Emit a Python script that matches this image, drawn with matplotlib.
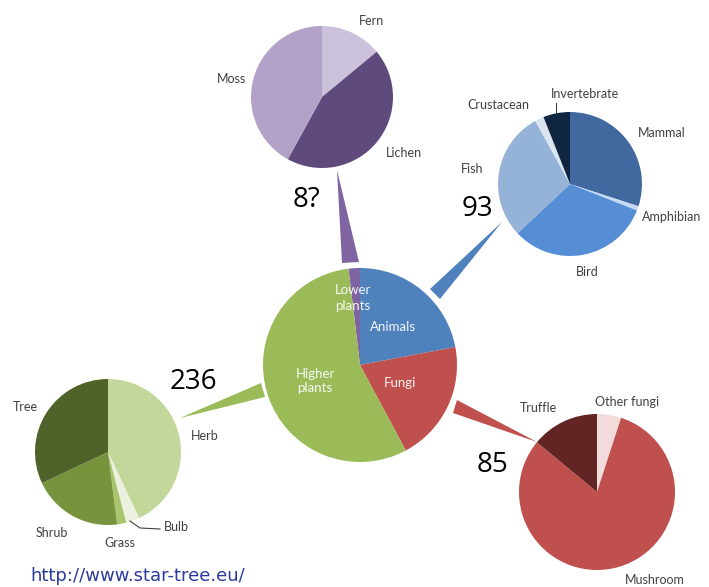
import matplotlib
matplotlib.use("Agg")
import matplotlib.pyplot as plt
from matplotlib.patches import Polygon

plt.rcParams['font.family'] = ['Lato', 'DejaVu Sans']

W, H = 709, 587

# ---- data ----------------------------------------------------------------
groups = ["Lower\nplants", "Animals", "Fungi", "Higher\nplants"]
group_counts = [8, 93, 85, 236]
group_count_labels = ["8?", "93", "85", "236"]
group_colors = ["#8064a2", "#4f81bd", "#c0504d", "#9bbb59"]

lower_names = ["Fern", "Lichen", "Moss"]
lower_shares = [14, 44, 42]
lower_colors = ["#ccc1da", "#5f4a7e", "#b3a2c7"]

animal_names = ["Mammal", "Amphibian", "Bird", "Fish", "Crustacean", "Invertebrate"]
animal_shares = [30, 1, 32, 29, 2, 6]
animal_colors = ["#41699f", "#c6d9f1", "#558ed5", "#95b3d7", "#dbe5f1", "#10253f"]

fungi_names = ["Other fungi", "Mushroom", "Truffle"]
fungi_shares = [5, 81, 14]
fungi_colors = ["#f2dcdb", "#c0504d", "#632523"]

higher_names = ["Herb", "Bulb", "Grass", "Shrub", "Tree"]
higher_shares = [43, 3, 2, 20, 32]
higher_colors = ["#c4d79b", "#ebf1de", "#a9c46c", "#77933c", "#4f6228"]


def P(x, y):
    """Screen-style (top-left origin) point to axes data coordinates."""
    return (x, H - y)


fig = plt.figure(figsize=(W / 100, H / 100), dpi=100)
ax = fig.add_axes([0, 0, 1, 1])


def pie(values, colors, center, radius, startangle=90):
    ax.pie(values, colors=colors, center=P(*center), radius=radius,
           startangle=startangle, counterclock=False, frame=True,
           wedgeprops=dict(linewidth=0))


def connector(tip, base_a, base_b, color):
    ax.add_patch(Polygon([P(*tip), P(*base_a), P(*base_b)], closed=True,
                         facecolor=color, edgecolor="none", zorder=1))


# connectors between the central pie and the satellite pies
connector((337, 170), (342, 263), (359, 262), group_colors[0])
connector((502, 222), (430, 289), (440, 299), group_colors[1])
connector((537, 442), (457, 400), (453, 413), group_colors[2])
connector((180, 418), (261, 383), (265, 397), group_colors[3])

# central pie
total = sum(group_counts)
pie(group_counts, group_colors, (360, 365), 97,
    startangle=90 + group_counts[0] / total * 360)

# satellite pies
pie(lower_shares, lower_colors, (322, 97), 71)
pie(animal_shares, animal_colors, (570, 184), 72)
pie(fungi_shares, fungi_colors, (597, 492), 78)
pie(higher_shares, higher_colors, (108, 452), 73)

# labels inside the central pie
central_label_pos = [(353, 298), (393, 327), (400, 383), (315, 381)]
for name, (x, y) in zip(groups, central_label_pos):
    ax.text(*P(x, y), name, color="white", fontsize=9.5, ha="center",
            va="center", linespacing=1.3, zorder=5, alpha=0.92)

# group counts next to the satellite pies
count_pos = [(307, 200), (477, 209), (492, 465), (193, 382)]
for txt, (x, y) in zip(group_count_labels, count_pos):
    ax.text(*P(x, y), txt, color="black", fontsize=20,
            family=["Open Sans", "DejaVu Sans"], ha="center", va="center",
            zorder=5)

# satellite slice labels
slice_label_pos = {
    "Fern": (372, 21), "Lichen": (404, 153), "Moss": (231, 79),
    "Mammal": (662, 133), "Amphibian": (672, 217), "Bird": (587, 272),
    "Fish": (472, 169), "Crustacean": (498, 105), "Invertebrate": (585, 94),
    "Other fungi": (627, 402), "Mushroom": (655, 580), "Truffle": (538, 408),
    "Herb": (205, 436), "Bulb": (176, 527), "Grass": (120, 543),
    "Shrub": (52, 533), "Tree": (25, 407),
}
for name, (x, y) in slice_label_pos.items():
    ax.text(*P(x, y), name, color="#404040", fontsize=9, ha="center",
            va="center", zorder=5)

# leader lines for the thin slices
ax.plot(*zip(P(556, 103), P(556, 113)), color="#404040", lw=0.8, zorder=4)
ax.plot(*zip(P(130, 521), P(140, 528), P(160, 529)), color="#404040",
        lw=0.8, zorder=4)

# source link
ax.text(*P(30, 576), "http://www.star-tree.eu/", color="#2b3a9b",
        fontsize=13, family="DejaVu Sans", ha="left", va="center")

ax.set_xlim(0, W)
ax.set_ylim(0, H)
ax.set_aspect("auto")
ax.axis("off")

fig.savefig("out.png", dpi=100, facecolor="white")
